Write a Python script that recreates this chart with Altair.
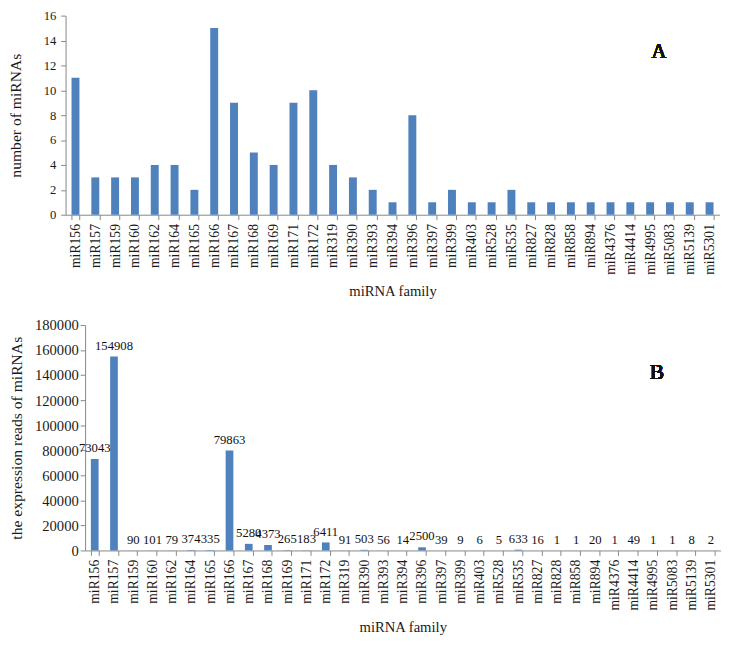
import altair as alt
import pandas as pd

families = ["miR156", "miR157", "miR159", "miR160", "miR162", "miR164", "miR165", "miR166",
            "miR167", "miR168", "miR169", "miR171", "miR172", "miR319", "miR390", "miR393",
            "miR394", "miR396", "miR397", "miR399", "miR403", "miR528", "miR535", "miR827",
            "miR828", "miR858", "miR894", "miR4376", "miR4414", "miR4995", "miR5083", "miR5139",
            "miR5301"]
counts = [11, 3, 3, 3, 4, 4, 2, 15, 9, 5, 4, 9, 10, 4, 3, 2, 1, 8, 1, 2, 1, 1, 2, 1, 1, 1, 1,
          1, 1, 1, 1, 1, 1]
reads = [73043, 154908, 90, 101, 79, 374, 335, 79863, 5280, 4373, 265, 183, 6411, 91, 503, 56,
         14, 2500, 39, 9, 6, 5, 633, 16, 1, 1, 20, 1, 49, 1, 1, 8, 2]

df = pd.DataFrame({"family": families, "count": counts, "reads": reads})

FONT = "Liberation Serif"
BLUE = "#4F81BD"
AXC = "#868686"
TXT = "#1a1a1a"


def xaxis(tpad):
    return alt.Axis(labelAngle=270, labelFont=FONT, labelFontSize=14, labelColor=TXT,
                    titleFont=FONT, titleFontSize=15, titleFontWeight="normal", titleColor=TXT,
                    tickBand="extent", domainColor=AXC, tickColor=AXC, tickSize=5,
                    labelPadding=4, titlePadding=tpad, labelOverlap=False)


def yaxis(values, title, lsize, lpad, tpad, offset=0):
    return alt.Axis(values=values, title=title, grid=False, format="d", labelOverlap=False,
                    labelFont=FONT, labelFontSize=lsize, labelColor=TXT,
                    titleFont=FONT, titleFontSize=16, titleFontWeight="normal",
                    titleColor=TXT, domainColor=AXC, tickColor=AXC, tickSize=5,
                    labelPadding=lpad, titlePadding=tpad, offset=offset)


# Panel A: plot area shares B's left edge; its band range reaches 20px further left
xA = alt.X("family:N", sort=families, title="miRNA family", axis=xaxis(10),
           scale=alt.Scale(paddingInner=0.6, paddingOuter=0.3, range=[-20, 650]))
yA = alt.Y("count:Q", scale=alt.Scale(domain=[0, 16], nice=False),
           axis=yaxis(list(range(0, 17, 2)), "number of miRNAs", 13, 5, 20, offset=20))

barsA = alt.Chart(df).mark_bar(color=BLUE).encode(x=xA, y=yA)
letterA = alt.Chart(df).mark_text(text="A", font=FONT, fontSize=21, fontWeight="normal",
                                  color="#111").encode(x=alt.value(588), y=alt.value(37))
chartA = alt.layer(barsA, letterA).properties(width=650, height=204)

xB = alt.X("family:N", sort=families, title="miRNA family", axis=xaxis(10),
           scale=alt.Scale(paddingInner=0.6, paddingOuter=0.3))
yB = alt.Y("reads:Q", scale=alt.Scale(domain=[0, 180000], nice=False),
           axis=yaxis(list(range(0, 180001, 20000)), "the expression reads of miRNAs", 15, 2, 10))

barsB = alt.Chart(df).mark_bar(color=BLUE).encode(x=xB, y=yB)
textB = alt.Chart(df).mark_text(font=FONT, fontSize=13, color="#111", dy=-11).encode(
    x=xB, y=yB, text=alt.Text("reads:Q", format="d"))
letterB = alt.Chart(df).mark_text(text="B", font=FONT, fontSize=22, fontWeight="normal",
                                  color="#111").encode(x=alt.value(586), y=alt.value(48))
chartB = alt.layer(barsB, textB, letterB).properties(width=651, height=231)

chart = alt.vconcat(chartA, chartB, spacing=19).configure(
    padding={"top": -6, "left": 0, "right": 0, "bottom": 0}
).configure_view(stroke=None)

chart.save("out.html", embed_options={"renderer": "svg", "actions": False})
